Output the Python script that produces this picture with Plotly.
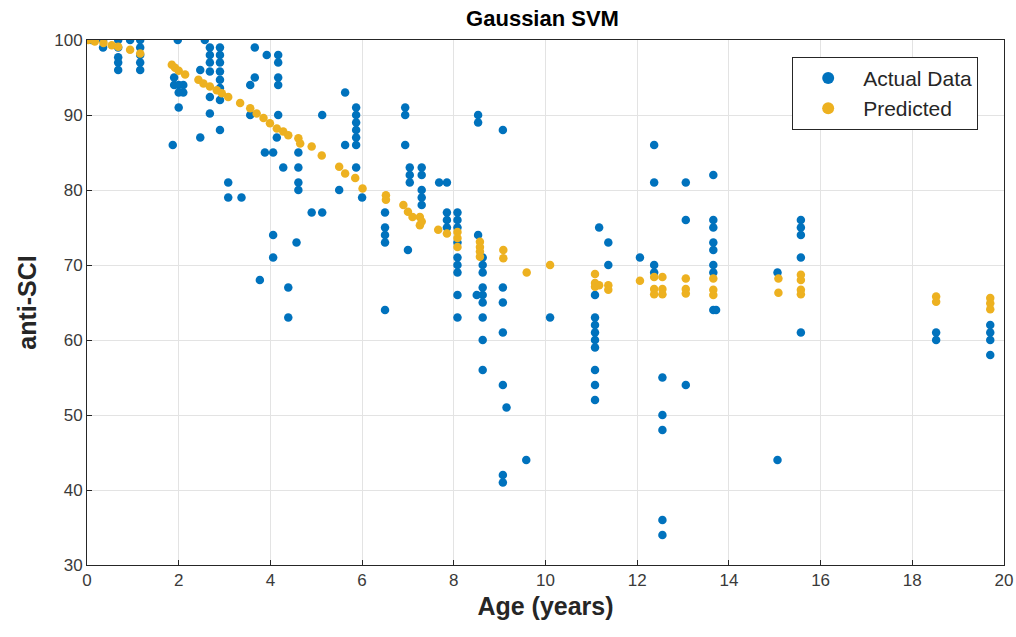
import plotly.graph_objects as go

# Measured anti-SCI values by age
actual_age = (
    [0.1] + [0.35] * 2 + [0.68] * 5 + [0.94] + [1.16] * 5
    + [1.87, 1.98, 1.9, 1.9, 2.0, 2.0, 2.0, 2.1, 2.1]
    + [2.47, 2.47, 2.57] + [2.68] * 6 + [2.9] * 8
    + [3.08, 3.08, 3.37, 3.56, 3.56, 3.66, 3.66, 3.77, 3.88, 3.92]
    + [4.06] * 3 + [4.14] + [4.17] * 5 + [4.28, 4.39, 4.39, 4.57] + [4.61] * 4
    + [4.9, 5.13, 5.13, 5.5, 5.63, 5.63] + [5.87] * 7 + [6.0]
    + [6.5] * 5 + [6.94] * 3 + [7.0] + [7.04] * 3 + [7.3] * 5
    + [7.68] + [7.85] * 4 + [8.08] * 9 + [8.5] + [8.53] * 3 + [8.63] * 9
    + [9.07] * 7 + [9.15, 9.58, 10.1] + [11.08] * 9 + [11.17, 11.37, 11.37, 12.06]
    + [12.37] * 4 + [12.55] * 5 + [13.06] * 3 + [13.66] * 8 + [13.72]
    + [15.06] * 2 + [15.57] * 5 + [18.52] * 2 + [19.7] * 4
)
actual_sci = (
    [100] + [100, 99] + [100, 99, 97.7, 97, 96] + [100] + [100, 99, 98, 97, 96]
    + [86, 100, 94, 95, 94, 93, 91, 93, 94]
    + [96, 87, 100] + [99, 98, 97, 95.8, 92.4, 90.2] + [99, 98, 97, 95.8, 94.7, 93.6, 92, 88]
    + [81, 79, 79, 94, 90, 99, 95, 68, 85, 98]
    + [85, 74, 71] + [87] + [98, 97, 95, 94, 90] + [83, 67, 63, 73] + [85, 83, 81, 80]
    + [77, 77, 90, 80, 93, 86] + [91, 90, 89, 88, 87, 86, 83] + [79]
    + [77, 75, 74, 73, 64] + [91, 90, 86] + [72] + [83, 82, 81] + [83, 82, 80, 79, 78]
    + [81] + [81, 77, 76, 75] + [77, 76, 75, 73, 71, 70, 69, 66, 63] + [66] + [90, 89, 74]
    + [71, 70, 69, 67, 66, 65, 63, 60, 56]
    + [88, 67, 65, 61, 54, 42, 41] + [51, 44, 63] + [66, 63, 62, 61, 60, 59, 56, 54, 52]
    + [75, 73, 70, 71]
    + [86, 81, 70, 69] + [55, 50, 48, 36, 34] + [81, 76, 54] + [82, 76, 75, 73, 72, 70, 69, 64] + [64]
    + [69, 44] + [76, 75, 74, 71, 61] + [61, 60] + [62, 61, 60, 58]
)

# Gaussian SVM predictions
pred_age = [
    0.03, 0.17, 0.36, 0.54, 0.68, 0.94, 1.16,
    1.85, 1.92, 2.0, 2.14,
    2.43, 2.54, 2.68, 2.83, 2.94, 3.08,
    3.34, 3.56, 3.7, 3.85, 3.99, 4.14, 4.28, 4.39,
    4.61, 4.65, 4.9, 5.12, 5.5, 5.63, 5.85, 6.01,
    6.52, 6.52, 6.9, 7.0, 7.1, 7.26, 7.26, 7.3,
    7.66, 7.85, 8.08, 8.08, 8.08, 8.57, 8.57, 8.57, 8.57,
    9.08, 9.08, 9.59, 10.1,
    11.08, 11.08, 11.08, 11.17, 11.37, 11.37,
    12.06, 12.37, 12.55, 12.37, 12.55, 12.37, 12.55,
    13.06, 13.06, 13.06, 13.66, 13.66, 13.66,
    15.08, 15.08, 15.57, 15.57, 15.57, 15.57,
    18.52, 18.52, 19.7, 19.7, 19.7,
]
pred_sci = [
    100, 99.8, 99.6, 99.3, 99.1, 98.7, 98.2,
    96.7, 96.3, 95.9, 95.4,
    94.7, 94.2, 93.8, 93.3, 92.9, 92.4,
    91.6, 90.9, 90.2, 89.6, 88.9, 88.2, 87.8, 87.3,
    86.9, 86.2, 85.8, 84.6, 83.1, 82.2, 81.6, 80.2,
    79.3, 78.7, 78.0, 77.1, 76.4, 76.4, 75.3, 75.8,
    74.7, 74.2, 74.4, 73.6, 72.4, 73.1, 72.4, 71.8, 71.1,
    72.0, 70.9, 69.0, 70.0,
    68.8, 67.6, 67.1, 67.3, 67.3, 66.7,
    67.9, 68.4, 68.4, 66.8, 66.8, 66.1, 66.1,
    68.2, 66.8, 66.2, 68.2, 66.7, 66.0,
    68.2, 66.3, 68.7, 68.0, 66.7, 66.1,
    65.8, 65.1, 65.6, 64.9, 64.1,
]

x_ticks = list(range(0, 21, 2))
y_ticks = list(range(30, 101, 10))

BLUE = "#0072BD"
ORANGE = "#EDB120"
AXIS = "#262626"
GRID = "#e3e3e3"
FONT = "Liberation Sans, Arial, sans-serif"

fig = go.Figure()
fig.add_trace(go.Scatter(
    x=actual_age, y=actual_sci, mode="markers", name="Actual Data",
    marker=dict(color=BLUE, size=8.5, line=dict(width=0)),
))
fig.add_trace(go.Scatter(
    x=pred_age, y=pred_sci, mode="markers", name="Predicted",
    marker=dict(color=ORANGE, size=8.5, line=dict(width=0)),
))

axis_common = dict(
    showgrid=True, gridcolor=GRID, gridwidth=1,
    showline=True, linecolor=AXIS, linewidth=1, mirror=True,
    ticks="inside", ticklen=5, tickcolor=AXIS,
    tickfont=dict(family=FONT, size=17, color="#3a3a3a"),
    zeroline=False, automargin=False,
)

fig.update_layout(
    width=1016, height=637,
    margin=dict(l=87, r=12, t=40, b=72),
    paper_bgcolor="white", plot_bgcolor="white",
    title=dict(text="<b>Gaussian SVM</b>", x=0.534, xanchor="center",
               y=0.972, yanchor="middle",
               font=dict(family=FONT, size=22, color="black")),
    xaxis=dict(range=[0, 20], tickvals=x_ticks,
               title=dict(text="<b>Age (years)</b>", standoff=8,
                          font=dict(family=FONT, size=25, color=AXIS)),
               **axis_common),
    yaxis=dict(range=[30, 100], tickvals=y_ticks,
               title=dict(text="<b>anti-SCI</b>", standoff=10,
                          font=dict(family=FONT, size=25, color=AXIS)),
               **axis_common),
    legend=dict(x=0.769, y=0.968, xanchor="left", yanchor="top",
                bgcolor="white", bordercolor=AXIS, borderwidth=1,
                font=dict(family=FONT, size=21, color=AXIS),
                itemsizing="constant", itemwidth=60),
    showlegend=True,
)

fig.write_html("out.html")
